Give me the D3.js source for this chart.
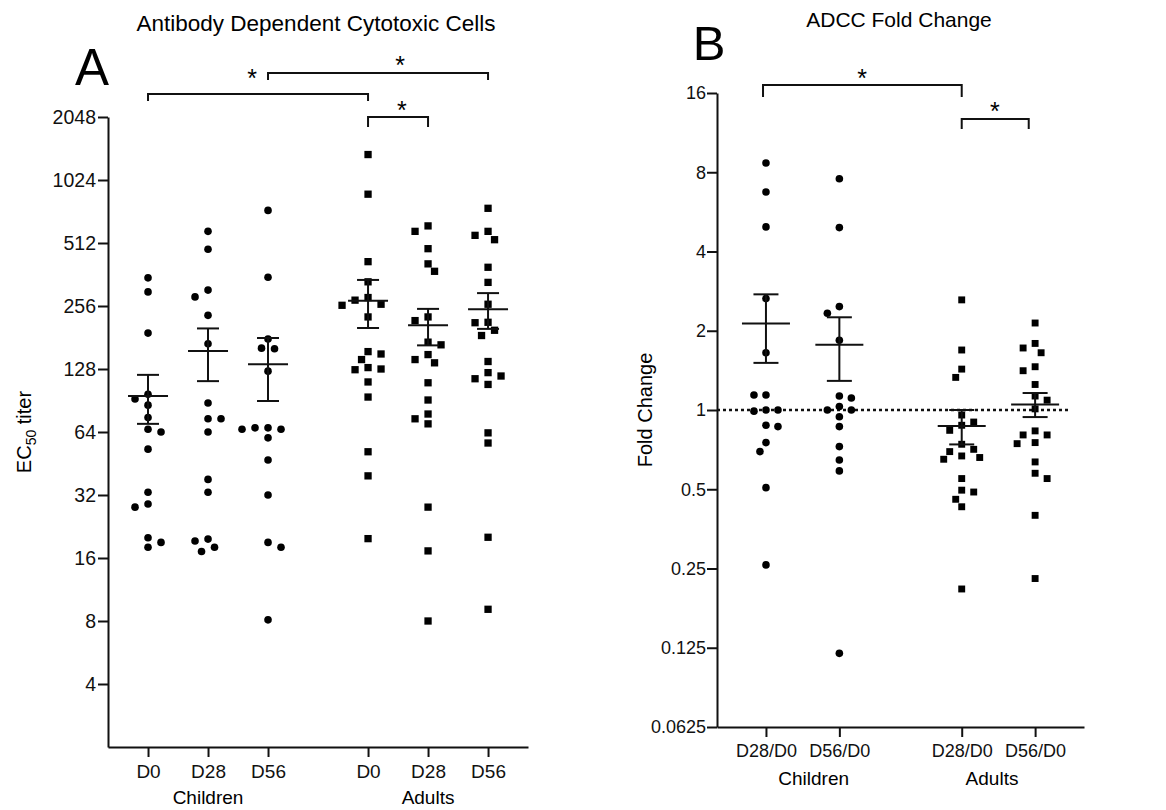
<!DOCTYPE html>
<html>
<head>
<meta charset="utf-8">
<script src="https://cdn.jsdelivr.net/npm/d3@7"></script>
<style>
    body { margin: 0; background: #fff; }
    svg { font-family: "Liberation Sans", Arial, Helvetica, sans-serif; }
    .axis path, .axis line { stroke: #111; stroke-width: 2; }
    .axis text { fill: #111; }
</style>
</head>
<body>
<div id="chart"></div>
<script>

// ---- Panel A: EC50 titers ----
let groupsA = ["D0", "D28", "D56", "D0", "D28", "D56"];
let cohortsA = ["Children", "Adults"];
let childD0 = [349, 299, 190, 97, 92, 86, 75, 66, 64, 53, 33, 29, 28, 20, 19, 18];
let childD28 = [582, 478, 305, 283, 231, 169, 88, 74, 74, 64, 38, 33, 19.7, 19.3, 18, 17.2];
let childD56 = [733, 351, 178, 161, 160, 125, 67, 67, 66, 66, 60, 47, 32, 19, 18, 8.1];
let adultD0 = [1355, 876, 417, 334, 281, 273, 261, 258, 227, 155, 151, 142, 130, 128, 127, 111, 94, 51.5, 39.5, 19.8];
let adultD28 = [618, 582, 481, 407, 375, 227, 218, 172, 167, 150, 142, 137, 110, 91, 78, 74, 70, 28, 17.3, 8.0];
let adultD56 = [750, 582, 557, 531, 392, 332, 261, 214, 213, 196, 185, 139, 123, 118.5, 115, 108, 63.4, 56.7, 20.1, 9.1];
let meansA = [95, 156, 135, 271, 207, 247];
let semsA = [25, 44, 45, 70, 41, 48];
let ticksA = [4, 8, 16, 32, 64, 128, 256, 512, 1024, 2048];

// ---- Panel B: fold change ----
let groupsB = ["D28/D0", "D56/D0", "D28/D0", "D56/D0"];
let cohortsB = ["Children", "Adults"];
let childF28 = [8.67, 6.73, 4.96, 2.65, 1.65, 1.14, 1.14, 1.0, 0.99, 1.0, 0.875, 0.865, 0.752, 0.695, 0.507, 0.258];
let childF56 = [7.56, 4.93, 2.47, 2.33, 1.84, 1.13, 1.11, 1.03, 1.0, 1.0, 0.943, 0.865, 0.726, 0.646, 0.587, 0.119];
let adultF28 = [2.62, 1.69, 1.43, 1.33, 0.957, 0.90, 0.875, 0.837, 0.741, 0.709, 0.695, 0.669, 0.66, 0.65, 0.549, 0.496, 0.488, 0.458, 0.429, 0.209];
let adultF56 = [2.14, 1.79, 1.72, 1.65, 1.46, 1.41, 1.25, 1.13, 1.09, 1.01, 0.833, 0.804, 0.804, 0.752, 0.745, 0.635, 0.575, 0.549, 0.398, 0.229];
let meansB = [2.13, 1.77, 0.87, 1.05];
let semsB = [0.62, 0.48, 0.13, 0.11];
let ticksB = [0.0625, 0.125, 0.25, 0.5, 1, 2, 4, 8, 16];


const svg = d3.select("#chart").append("svg")
    .attr("width", 1166)
    .attr("height", 810);


/*
 * ScatterPanel - one Prism-style column scatter with mean +/- SEM
 */
class ScatterPanel {

    constructor(cfg) {
        this.cfg = cfg;
        this.initVis();
    }

    initVis() {
        let vis = this;
        let c = vis.cfg;

        vis.g = svg.append("g");

        vis.x = d3.scaleLinear()
            .domain(c.xDomain)
            .range(c.xRange);

        vis.y = d3.scaleLog()
            .base(2)
            .domain(c.yDomain)
            .range(c.yRange);

        vis.yAxis = d3.axisLeft(vis.y)
            .tickValues(c.ticks)
            .tickFormat(d => String(d))
            .tickSize(10)
            .tickSizeOuter(0)
            .tickPadding(c.yPad);

        vis.xAxis = d3.axisBottom(vis.x)
            .tickValues(c.slots)
            .tickFormat((d, i) => c.groups[i])
            .tickSize(10)
            .tickSizeOuter(0)
            .tickPadding(c.xPad);

        vis.g.append("g")
            .attr("class", "y-axis axis")
            .attr("transform", "translate(" + c.xRange[0] + ",0)")
            .call(vis.yAxis)
            .selectAll("text")
            .style("font-size", c.tickFont + "px");

        vis.g.append("g")
            .attr("class", "x-axis axis")
            .attr("transform", "translate(0," + c.yRange[0] + ")")
            .call(vis.xAxis)
            .selectAll("text")
            .style("font-size", c.xFont + "px");

        // cohort labels under the tick labels
        vis.g.selectAll("text.cohort")
            .data(c.cohorts)
            .enter()
            .append("text")
            .attr("class", "cohort")
            .attr("x", (d, i) => vis.x(c.cohortAt[i]))
            .attr("y", c.cohortY)
            .attr("text-anchor", "middle")
            .style("font-size", "19px")
            .text(d => d);

        // title + panel letter
        vis.g.append("text")
            .attr("x", c.titleX)
            .attr("y", c.titleY)
            .attr("text-anchor", "middle")
            .style("font-size", c.titleFont + "px")
            .text(c.title);

        vis.g.append("text")
            .attr("x", c.letterX)
            .attr("y", c.letterY)
            .attr("text-anchor", "middle")
            .style("font-size", c.letterFont + "px")
            .text(c.letter);

        // y label, rotated
        let yl = vis.g.append("text")
            .attr("transform", "translate(" + c.yLabelX + "," + d3.mean(c.yRange) + ") rotate(-90)")
            .attr("text-anchor", "middle")
            .style("font-size", "20px");
        c.yLabel.forEach(part => {
            yl.append("tspan")
                .attr("dy", part.dy || 0)
                .style("font-size", part.size ? part.size + "px" : null)
                .text(part.t);
        });

        if (c.refLine) {
            vis.g.append("line")
                .attr("x1", c.xRange[0])
                .attr("x2", c.xRange[1] - 15)
                .attr("y1", vis.y(c.refLine))
                .attr("y2", vis.y(c.refLine))
                .attr("stroke", "#111")
                .attr("stroke-width", 2.6)
                .attr("stroke-dasharray", "3,3");
        }

        vis.wrangleData();
    }

    /*
     * spread overlapping points sideways (simple beeswarm),
     * ties go to the side that has fewer points so far
     */
    wrangleData() {
        let vis = this;
        let c = vis.cfg;

        let cands = [0];
        for (let i = 1; i < 20; i++) cands.push(i * c.step, -i * c.step);

        vis.displayData = c.series.map((vals, k) => {
            let placed = [];
            let left = 0, right = 0;
            vals.slice().sort((a, b) => b - a).forEach(v => {
                let yy = vis.y(v);
                let ok = cands.filter(dx => placed.every(p => Math.hypot(p.dx - dx, p.y - yy) >= c.minDist));
                let best = d3.min(ok, dx => Math.abs(dx));
                let pick = ok.filter(dx => Math.abs(dx) === best);
                let dx = pick.length > 1 ? (left <= right ? -best : best) : pick[0];
                if (dx < 0) left++;
                if (dx > 0) right++;
                placed.push({value: v, y: yy, dx: dx, slot: c.slots[k], shape: c.shapes[k]});
            });
            return placed;
        });

        vis.updateVis();
    }

    updateVis() {
        let vis = this;
        let c = vis.cfg;

        let pts = vis.displayData.flat();

        vis.g.selectAll("circle.pt")
            .data(pts.filter(d => d.shape === "circle"))
            .enter()
            .append("circle")
            .attr("class", "pt")
            .attr("cx", d => vis.x(d.slot) + d.dx)
            .attr("cy", d => d.y)
            .attr("r", c.r)
            .attr("fill", "#000");

        vis.g.selectAll("rect.pt")
            .data(pts.filter(d => d.shape === "square"))
            .enter()
            .append("rect")
            .attr("class", "pt")
            .attr("x", d => vis.x(d.slot) + d.dx - c.sq / 2)
            .attr("y", d => d.y - c.sq / 2)
            .attr("width", c.sq)
            .attr("height", c.sq)
            .attr("fill", "#000");

        // mean +/- SEM
        let bars = vis.g.selectAll("g.errbar")
            .data(c.means.map((m, i) => ({m: m, s: c.sems[i], slot: c.slots[i]})))
            .enter()
            .append("g")
            .attr("class", "errbar")
            .attr("stroke", "#111")
            .attr("stroke-width", 2);

        bars.append("line")
            .attr("x1", d => vis.x(d.slot) - c.meanHalf)
            .attr("x2", d => vis.x(d.slot) + c.meanHalf)
            .attr("y1", d => vis.y(d.m))
            .attr("y2", d => vis.y(d.m));
        bars.append("line")
            .attr("x1", d => vis.x(d.slot))
            .attr("x2", d => vis.x(d.slot))
            .attr("y1", d => vis.y(d.m + d.s))
            .attr("y2", d => vis.y(d.m - d.s));
        bars.append("line")
            .attr("x1", d => vis.x(d.slot) - c.capHalf)
            .attr("x2", d => vis.x(d.slot) + c.capHalf)
            .attr("y1", d => vis.y(d.m + d.s))
            .attr("y2", d => vis.y(d.m + d.s));
        bars.append("line")
            .attr("x1", d => vis.x(d.slot) - c.capHalf)
            .attr("x2", d => vis.x(d.slot) + c.capHalf)
            .attr("y1", d => vis.y(d.m - d.s))
            .attr("y2", d => vis.y(d.m - d.s));

        // significance brackets
        let br = vis.g.selectAll("g.bracket")
            .data(c.brackets)
            .enter()
            .append("g")
            .attr("class", "bracket");

        br.append("path")
            .attr("fill", "none")
            .attr("stroke", "#111")
            .attr("stroke-width", 2)
            .attr("d", d => "M" + vis.x(d.from) + "," + d.tip + "V" + d.level
                + "H" + vis.x(d.to) + "V" + d.tip);

        br.append("text")
            .attr("x", d => vis.x(d.star))
            .attr("y", d => d.starY + 14)
            .attr("text-anchor", "middle")
            .style("font-size", "25px")
            .text("*");
    }
}


new ScatterPanel({
    title: "Antibody Dependent Cytotoxic Cells", titleX: 316, titleY: 31, titleFont: 22.5,
    letter: "A", letterX: 92, letterY: 85, letterFont: 51,
    groups: groupsA, cohorts: cohortsA, cohortAt: [1, 4.667], cohortY: 804,
    series: [childD0, childD28, childD56, adultD0, adultD28, adultD56],
    shapes: ["circle", "circle", "circle", "square", "square", "square"],
    means: meansA, sems: semsA, ticks: ticksA,
    slots: [0, 1, 2, 3.667, 4.667, 5.667],
    xDomain: [-0.667, 6.333], xRange: [108, 528],
    yDomain: [2, 2048], yRange: [747, 117],
    yPad: 2, xPad: 8, tickFont: 19.5, xFont: 19,
    yLabelX: 31,
    yLabel: [{t: "EC"}, {t: "50", size: 14, dy: 5}, {t: " titer", dy: -5}],
    r: 3.8, sq: 7.3, step: 6.5, minDist: 9.5,
    meanHalf: 20, capHalf: 11,
    brackets: [
        {from: 0, to: 3.667, level: 94, tip: 101, star: 1.733, starY: 73},
        {from: 2, to: 5.667, level: 73, tip: 80, star: 4.2, starY: 60},
        {from: 3.667, to: 4.667, level: 117, tip: 127, star: 4.23, starY: 105}
    ]
});

new ScatterPanel({
    title: "ADCC Fold Change", titleX: 899, titleY: 27, titleFont: 21,
    letter: "B", letterX: 709, letterY: 60, letterFont: 49,
    groups: groupsB, cohorts: cohortsB, cohortAt: [0.65, 3.08], cohortY: 785,
    series: [childF28, childF56, adultF28, adultF56],
    shapes: ["circle", "circle", "square", "square"],
    means: meansB, sems: semsB, ticks: ticksB,
    slots: [0, 1, 2.667, 3.667],
    xDomain: [-0.667, 4.333], xRange: [717, 1084],
    yDomain: [0.0625, 16], yRange: [727, 93],
    yPad: 1, xPad: 7, tickFont: 18, xFont: 18,
    yLabelX: 652,
    yLabel: [{t: "Fold Change"}],
    refLine: 1,
    r: 3.8, sq: 6.9, step: 6, minDist: 9.5,
    meanHalf: 24, capHalf: 12.5,
    brackets: [
        {from: -0.04, to: 2.667, level: 85, tip: 97, star: 1.31, starY: 73},
        {from: 2.667, to: 3.58, level: 119, tip: 129, star: 3.12, starY: 106}
    ]
});

</script>
</body>
</html>
